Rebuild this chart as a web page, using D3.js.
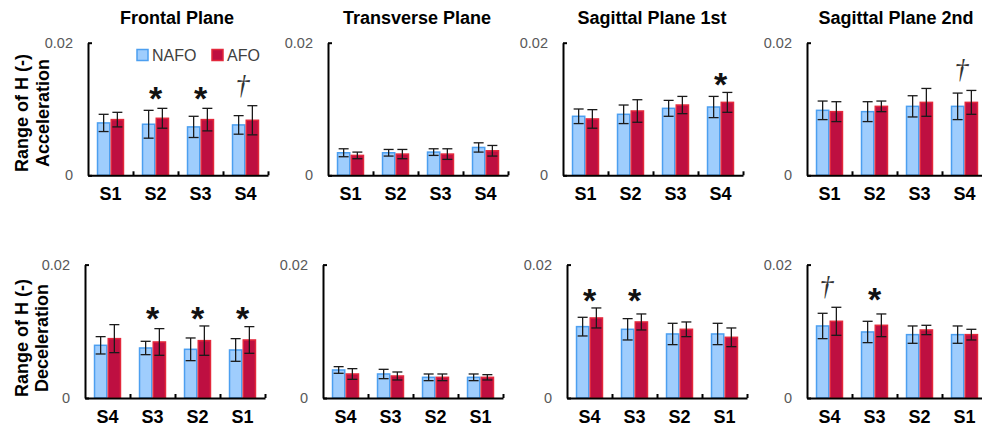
<!DOCTYPE html>
<html>
<head>
<meta charset="utf-8">
<script src="https://cdn.jsdelivr.net/npm/d3@7"></script>
<style>
  body { margin: 0; background: #fff; }
  svg { display: block; }
  text { font-family: "Liberation Sans", Arial, sans-serif; }
</style>
</head>
<body>
<svg id="chart" width="982" height="431"></svg>
<script>
// categories and labels
var accCats = ["S1", "S2", "S3", "S4"];
var decCats = ["S4", "S3", "S2", "S1"];
var planeTitles = ["Frontal Plane", "Transverse Plane", "Sagittal Plane 1st", "Sagittal Plane 2nd"];
var seriesNames = ["NAFO", "AFO"];
var yTicks = [0, 0.02];

// acceleration (one row per plane, columns S1..S4)
var accNafo = [
	[0.0079, 0.0077, 0.0073, 0.0076],
	[0.0034, 0.0034, 0.0035, 0.0042],
	[0.0089, 0.0092, 0.0101, 0.0103],
	[0.0098, 0.0096, 0.0104, 0.0104]
];
var accNafoSd = [
	[0.0013, 0.0021, 0.0016, 0.0014],
	[0.0006, 0.0005, 0.0005, 0.0007],
	[0.0011, 0.0014, 0.0012, 0.0016],
	[0.0014, 0.0015, 0.0016, 0.0020]
];
var accAfo = [
	[0.0084, 0.0086, 0.0084, 0.0083],
	[0.0030, 0.0032, 0.0032, 0.0037],
	[0.0085, 0.0097, 0.0106, 0.0110],
	[0.0096, 0.0104, 0.0110, 0.0110]
];
var accAfoSd = [
	[0.0011, 0.0015, 0.0017, 0.0022],
	[0.0005, 0.0007, 0.0008, 0.0008],
	[0.0014, 0.0017, 0.0013, 0.0015],
	[0.0015, 0.0008, 0.0021, 0.0018]
];

// deceleration (columns S4..S1)
var decNafo = [
	[0.0079, 0.0075, 0.0073, 0.0072],
	[0.0042, 0.0036, 0.0031, 0.0031],
	[0.0107, 0.0103, 0.0096, 0.0096],
	[0.0108, 0.0099, 0.0095, 0.0095]
];
var decNafoSd = [
	[0.0013, 0.0010, 0.0017, 0.0017],
	[0.0005, 0.0007, 0.0005, 0.0005],
	[0.0014, 0.0016, 0.0016, 0.0016],
	[0.0019, 0.0016, 0.0013, 0.0013]
];
var decAfo = [
	[0.0089, 0.0084, 0.0086, 0.0087],
	[0.0036, 0.0033, 0.0031, 0.0031],
	[0.0120, 0.0114, 0.0103, 0.0091],
	[0.0115, 0.0109, 0.0102, 0.0095]
];
var decAfoSd = [
	[0.0021, 0.0020, 0.0022, 0.0020],
	[0.0008, 0.0006, 0.0005, 0.0004],
	[0.0015, 0.0012, 0.0011, 0.0014],
	[0.0021, 0.0017, 0.0007, 0.0008]
];

// significance marks: [category, symbol]
var accMarks = [[["S2", "*"], ["S3", "*"], ["S4", "\u2020"]], [], [["S4", "*"]], [["S4", "\u2020"]]];
var decMarks = [[["S3", "*"], ["S2", "*"], ["S1", "*"]], [], [["S4", "*"], ["S3", "*"]], [["S4", "\u2020"], ["S3", "*"]]];

// layout
var panelLeft = [[88, 328, 563, 807], [85, 323, 567, 807]];
var rowTop = [42.7, 264.6];
var rowBase = [175.3, 398];
var axisW = 180;
var colors = {NAFO: {fill: "#9fcdfd", stroke: "#4c9ff0"}, AFO: {fill: "#be0f41", stroke: "#e3283c"}};

var svg = d3.select("#chart");

function drawPanel(row, col) {
	var cats = row === 0 ? accCats : decCats;
	var nafo = row === 0 ? accNafo[col] : decNafo[col];
	var nafoSd = row === 0 ? accNafoSd[col] : decNafoSd[col];
	var afo = row === 0 ? accAfo[col] : decAfo[col];
	var afoSd = row === 0 ? accAfoSd[col] : decAfoSd[col];
	var marks = row === 0 ? accMarks[col] : decMarks[col];
	var top = rowTop[row], base = rowBase[row];

	var g = svg.append("g")
		.attr("transform", "translate(" + panelLeft[row][col] + ",0)");

	var x = d3.scaleBand().domain(cats).range([0, axisW])
		.paddingInner(0.39).paddingOuter(0.195);
	var xs = d3.scaleBand().domain(seriesNames).range([0, x.bandwidth()]);
	var y = d3.scaleLinear().domain([0, 0.02]).range([base, top]);

	var rows = cats.map(function(c, i) {
		return {cat: c, NAFO: nafo[i], NAFOsd: nafoSd[i], AFO: afo[i], AFOsd: afoSd[i]};
	});

	// bars
	seriesNames.forEach(function(s) {
		g.selectAll(".bar-" + s)
			.data(rows)
			.enter()
			.append("rect")
			.attr("class", "bar-" + s)
			.attr("x", function(d) { return x(d.cat) + xs(s) + 0.75; })
			.attr("y", function(d) { return y(d[s]); })
			.attr("width", xs.bandwidth() - 1.5)
			.attr("height", function(d) { return base - y(d[s]); })
			.attr("fill", colors[s].fill)
			.attr("stroke", colors[s].stroke)
			.attr("stroke-width", 1.5);
	});

	// error bars
	seriesNames.forEach(function(s) {
		var eb = g.selectAll(".err-" + s)
			.data(rows)
			.enter()
			.append("g")
			.attr("class", "err-" + s)
			.attr("transform", function(d) { return "translate(" + (x(d.cat) + xs(s) + xs.bandwidth() / 2) + ",0)"; })
			.attr("stroke", "#1a1a1a")
			.attr("stroke-width", 1.3);
		eb.append("line")
			.attr("y1", function(d) { return y(d[s] - d[s + "sd"]); })
			.attr("y2", function(d) { return y(d[s] + d[s + "sd"]); });
		eb.append("line")
			.attr("x1", -5).attr("x2", 5)
			.attr("y1", function(d) { return y(d[s] + d[s + "sd"]); })
			.attr("y2", function(d) { return y(d[s] + d[s + "sd"]); });
		eb.append("line")
			.attr("x1", -5).attr("x2", 5)
			.attr("y1", function(d) { return y(d[s] - d[s + "sd"]); })
			.attr("y2", function(d) { return y(d[s] - d[s + "sd"]); });
	});

	// y axis
	var yAxis = g.append("g")
		.call(d3.axisLeft(y).tickValues(yTicks).tickSizeInner(-4).tickSizeOuter(0).tickPadding(15)
			.tickFormat(function(d) { return d === 0 ? "0" : "0.02"; }));
	yAxis.select(".domain").attr("stroke", "#000").attr("stroke-width", 2);
	yAxis.selectAll(".tick line").attr("stroke", "#000").attr("stroke-width", 2);
	yAxis.selectAll("text")
		.style("font-family", "'Liberation Sans', Arial, sans-serif")
		.style("font-size", "14.5px")
		.attr("fill", "#595959");

	// x axis line with boundary ticks
	var xb = d3.scaleLinear().domain([0, 4]).range([0, axisW]);
	var xAxis = g.append("g")
		.attr("transform", "translate(0," + base + ")")
		.call(d3.axisBottom(xb).tickValues([1, 2, 3, 4]).tickSizeInner(-4).tickSizeOuter(0).tickFormat(""));
	xAxis.select(".domain").attr("stroke", "#000").attr("stroke-width", 2);
	xAxis.selectAll(".tick line").attr("stroke", "#000").attr("stroke-width", 2);

	// category labels
	var xLab = g.append("g")
		.attr("transform", "translate(0," + base + ")")
		.call(d3.axisBottom(x).tickSize(0).tickPadding(12));
	xLab.select(".domain").remove();
	xLab.selectAll("text")
		.style("font-family", "'Liberation Sans', Arial, sans-serif")
		.style("font-size", "18px")
		.style("font-weight", "bold")
		.attr("fill", "#000");

	// significance marks
	if (marks.length) {
		var hi = d3.max(marks, function(m) {
			var i = cats.indexOf(m[0]);
			return Math.max(nafo[i] + nafoSd[i], afo[i] + afoSd[i]);
		});
		var my = y(hi) - 16;
		marks.forEach(function(m) {
			var cx = x(m[0]) + x.bandwidth() / 2;
			if (m[1] === "*") {
				g.append("text")
					.attr("x", cx).attr("y", my + 20)
					.attr("text-anchor", "middle")
					.style("font-size", "34px")
					.style("font-weight", "bold")
					.attr("fill", "#111")
					.text("*");
			} else {
				g.append("text")
					.attr("x", cx - 3).attr("y", my + 4)
					.attr("text-anchor", "middle")
					.style("font-family", "'Liberation Serif', serif")
					.style("font-style", "italic")
					.style("font-size", "28px")
					.attr("fill", "#333")
					.text(m[1]);
			}
		});
	}

	// plane title
	if (row === 0) {
		g.append("text")
			.attr("x", axisW / 2 - 1).attr("y", 24)
			.attr("text-anchor", "middle")
			.style("font-size", "18px")
			.style("font-weight", "bold")
			.attr("fill", "#000")
			.text(planeTitles[col]);
	}

	// legend
	if (row === 0 && col === 0) {
		var legX = [49, 124];
		seriesNames.forEach(function(s, i) {
			g.append("rect")
				.attr("x", legX[i]).attr("y", 49.5)
				.attr("width", 11).attr("height", 11)
				.attr("fill", colors[s].fill)
				.attr("stroke", colors[s].stroke)
				.attr("stroke-width", 1.5);
			g.append("text")
				.attr("x", legX[i] + 15).attr("y", 55)
				.attr("dy", "0.35em")
				.style("font-size", "16px")
				.attr("fill", "#404040")
				.text(s);
		});
	}
}

for (var r = 0; r < 2; r++) {
	for (var c = 0; c < 4; c++) drawPanel(r, c);
}

// y axis titles
var yTitles = [
	{cy: 113, lines: ["Range of H (-)", "Acceleration"], xs: [22, 43]},
	{cy: 338, lines: ["Range of H (-)", "Deceleration"], xs: [22, 42]}
];
yTitles.forEach(function(t) {
	t.lines.forEach(function(l, i) {
		svg.append("text")
			.attr("transform", "translate(" + t.xs[i] + "," + t.cy + ") rotate(-90)")
			.attr("text-anchor", "middle")
			.attr("dy", "0.35em")
			.style("font-size", "18px")
			.style("font-weight", "bold")
			.attr("fill", "#000")
			.text(l);
	});
});
</script>
</body>
</html>
